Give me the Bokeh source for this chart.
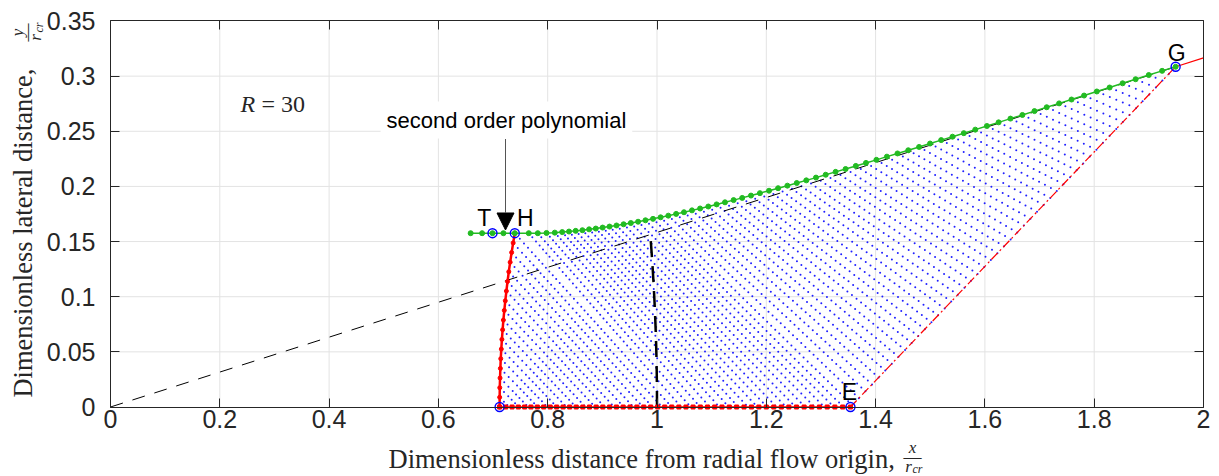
import numpy as np
from bokeh.plotting import figure
from bokeh.models import (Range1d, FixedTicker, NumeralTickFormatter, LinearAxis,
                          Label, Arrow, NormalHead)
from bokeh.embed import file_html
from bokeh.resources import INLINE

# ---------------- data ----------------
x_ticks = [0, 0.2, 0.4, 0.6, 0.8, 1.0, 1.2, 1.4, 1.6, 1.8, 2.0]
y_ticks = [0, 0.05, 0.1, 0.15, 0.2, 0.25, 0.3, 0.35]

# throat line (second order polynomial), from axis point A up to H
throat_y = [0, 0.0088, 0.0175, 0.0263, 0.0350, 0.0438, 0.0525, 0.0613, 0.0700, 0.0788,
            0.0876, 0.0963, 0.1051, 0.1138, 0.1226, 0.1313, 0.1401, 0.1488, 0.1576]
throat_x = [0.7120, 0.7121, 0.7123, 0.7128, 0.7134, 0.7141, 0.7151, 0.7162, 0.7175, 0.7189,
            0.7206, 0.7224, 0.7244, 0.7265, 0.7288, 0.7313, 0.7340, 0.7368, 0.7398]

# axis nodes from A to E
axis_x = [0.7120, 0.7233, 0.7348, 0.7462, 0.7578, 0.7693, 0.7810, 0.7927, 0.8045, 0.8164,
          0.8282, 0.8402, 0.8522, 0.8643, 0.8765, 0.8887, 0.9009, 0.9133, 0.9257, 0.9381,
          0.9506, 0.9632, 0.9758, 0.9885, 1.0013, 1.0141, 1.0270, 1.0400, 1.0530, 1.0660,
          1.0792, 1.0924, 1.1056, 1.1189, 1.1323, 1.1457, 1.1592, 1.1728, 1.1864, 1.2000,
          1.2137, 1.2275, 1.2413, 1.2552, 1.2692, 1.2832, 1.2972, 1.3114, 1.3255, 1.3398,
          1.3540]

# wall nodes from H to G
wall_x = [0.7398, 0.7654, 0.7819, 0.7978, 0.8130, 0.8265, 0.8390, 0.8512, 0.8635, 0.8758,
          0.8880, 0.9005, 0.9131, 0.9259, 0.9389, 0.9521, 0.9654, 0.9789, 0.9927, 1.0066,
          1.0207, 1.0350, 1.0494, 1.0640, 1.0789, 1.0939, 1.1091, 1.1244, 1.1402, 1.1559,
          1.1720, 1.1883, 1.2050, 1.2216, 1.2386, 1.2558, 1.2732, 1.2909, 1.3087, 1.3268,
          1.3451, 1.3638, 1.3824, 1.4015, 1.4207, 1.4401, 1.4598, 1.4796, 1.4997, 1.5200,
          1.5407, 1.5614, 1.5824, 1.6037, 1.6251, 1.6468, 1.6686, 1.6907, 1.7131, 1.7358,
          1.7585, 1.7815, 1.8048, 1.8282, 1.8520, 1.8758, 1.8999, 1.9243, 1.9490]
wall_y = [0.1576, 0.1576, 0.1576, 0.1578, 0.1581, 0.1586, 0.1591, 0.1597, 0.1603, 0.1611,
          0.1618, 0.1627, 0.1636, 0.1646, 0.1657, 0.1668, 0.1680, 0.1693, 0.1706, 0.1720,
          0.1735, 0.1751, 0.1766, 0.1783, 0.1800, 0.1818, 0.1837, 0.1856, 0.1876, 0.1896,
          0.1917, 0.1939, 0.1961, 0.1984, 0.2007, 0.2031, 0.2055, 0.2080, 0.2106, 0.2132,
          0.2158, 0.2186, 0.2213, 0.2241, 0.2270, 0.2299, 0.2328, 0.2358, 0.2389, 0.2420,
          0.2451, 0.2483, 0.2515, 0.2548, 0.2581, 0.2615, 0.2648, 0.2683, 0.2718, 0.2753,
          0.2788, 0.2824, 0.2861, 0.2897, 0.2935, 0.2972, 0.3010, 0.3048, 0.3085]

# green line upstream of H (through T)
lead_x = [0.659, 0.680, 0.699, 0.719]
lead_y = [0.1576, 0.1576, 0.1576, 0.1576]

# marked points
pt_names = ["T", "H", "E", "G"]
pt_x = [0.699, 0.7398, 1.354, 1.949]
pt_y = [0.1576, 0.1576, 0.0, 0.3085]
A_x, A_y = 0.712, 0.0

r_cr = 1.0          # sonic radius (thick dashed arc)
R_value = 30
x_max = 2.0

# ---------------- figure: frame = whole canvas, axes fixed at the box ----------------
DARK = "#262626"
XS, YS = 546.5, 1102.86          # pixels per data unit
x_lo, x_hi = -110 / XS, 2 + 16 / XS
y_lo, y_hi = -(476 - 406.5) / YS, 406.5 / YS
p = figure(width=1219, height=476, x_range=Range1d(x_lo, x_hi), y_range=Range1d(y_lo, y_hi),
           output_backend="svg", toolbar_location=None, min_border=0)
p.background_fill_color = "white"
p.border_fill_color = "white"
p.outline_line_color = None
p.grid.visible = False

xt = FixedTicker(ticks=x_ticks)
yt = FixedTicker(ticks=y_ticks)
for ax, tk, loc, bnd in ((p.xaxis[0], xt, 0, (0, 2)), (p.yaxis[0], yt, 0, (0, 0.35))):
    ax.ticker = tk
    ax.fixed_location = loc
    ax.bounds = bnd
    ax.formatter = NumeralTickFormatter(format="0.[00]")
    ax.major_tick_in = 9
    ax.major_tick_out = 0
    ax.minor_tick_line_color = None
    ax.axis_line_color = DARK
    ax.major_tick_line_color = DARK
    ax.major_label_text_color = DARK
    ax.major_label_text_font = "Liberation Sans"
    ax.major_label_text_font_size = "25px"
p.xaxis.major_label_standoff = 3
p.yaxis.major_label_standoff = 15

for side, tk, loc, bnd in (("above", xt, 0.35, (0, 2)), ("right", yt, 2.0, (0, 0.35))):
    ax = LinearAxis(ticker=tk, fixed_location=loc, bounds=bnd, major_label_text_color=None,
                    major_tick_in=9, major_tick_out=0, minor_tick_line_color=None,
                    axis_line_color=DARK, major_tick_line_color=DARK)
    p.add_layout(ax, side)

# grid lines inside the box
GRID = "#e3e3e3"
p.segment(x_ticks[1:-1], [0] * (len(x_ticks) - 2), x_ticks[1:-1], [0.35] * (len(x_ticks) - 2),
          line_color=GRID, line_width=1)
p.segment([0] * (len(y_ticks) - 2), y_ticks[1:-1], [2] * (len(y_ticks) - 2), y_ticks[1:-1],
          line_color=GRID, line_width=1)

# ---------------- characteristic net (built from the boundary nodes) ----------------
tx, ty = np.array(throat_x), np.array(throat_y)
ax_, wx, wy = np.array(axis_x), np.array(wall_x), np.array(wall_y)
Ex, Gx, Gy = ax_[-1], wx[-1], wy[-1]
nT, nA, nW = len(tx) - 1, len(ax_) - 1, len(wx) - 1      # 18, 50, 68 intervals
# left-running family: from throat (H -> A) then axis (A -> E) up to each wall node
Px0 = np.concatenate([tx[::-1], ax_[1:]])
Py0 = np.concatenate([ty[::-1], np.zeros(nA)])
Px1, Py1 = wx, wy
# right-running family: from throat (A -> H) then wall (H -> G) down to axis / E-G
qx0 = np.concatenate([tx, wx[1:]])
qy0 = np.concatenate([ty, wy[1:]])
nQ = nT + nW
L_ax = (Ex - A_x) * XS
L_eg = np.hypot((Gx - Ex) * XS, Gy * YS)
sj = np.arange(nQ + 1) / nQ * (L_ax + L_eg)
on_ax = sj <= L_ax
fe = np.clip((sj - L_ax) / L_eg, 0, 1)
qx1 = np.where(on_ax, A_x + sj / XS, Ex + fe * (Gx - Ex))
qy1 = np.where(on_ax, 0.0, fe * Gy)
d1x, d1y = (Px1 - Px0)[:, None], (Py1 - Py0)[:, None]
d2x, d2y = (qx1 - qx0)[None, :], (qy1 - qy0)[None, :]
rx, ry = qx0[None, :] - Px0[:, None], qy0[None, :] - Py0[:, None]
with np.errstate(divide="ignore", invalid="ignore"):
    den = d1x * d2y - d1y * d2x
    tp = (rx * d2y - ry * d2x) / den
    tq = (rx * d1y - ry * d1x) / den
ok = np.isfinite(tp) & np.isfinite(tq) & (tp > 1e-6) & (tp < 1 - 1e-6) & \
     (tq > 1e-6) & (tq < 1 + 1e-6)
mesh_x = (Px0[:, None] + tp * d1x)[ok]
mesh_y = (Py0[:, None] + tp * d1y)[ok]
p.scatter(mesh_x, mesh_y, marker="circle", size=2.0, fill_color="#2020ff", line_color=None)

# ray from the radial flow origin through G
p.line([0, Gx], [0, Gy], line_color="black", line_width=1, line_dash="13 10")
# sonic arc r = r_cr
th = np.linspace(0, np.arctan2(Gy, Gx), 60)
p.line(r_cr * np.cos(th), r_cr * np.sin(th), line_color="black", line_width=2.5,
       line_dash="16 9")
# characteristic E-G
p.line([Ex, Gx], [0, Gy], line_color="#ff0000", line_width=1.2, line_dash="9 3 2 3")
# continuation of the ray past G
p.line([Gx, x_max], [Gy, Gy / Gx * x_max], line_color="#ff0000", line_width=1.2)

# throat curve
p.line(throat_x, throat_y, line_color="#ff0000", line_width=2.5)
p.scatter(throat_x, throat_y, marker="circle", size=4, fill_color="#ff0000",
          line_color="#ff0000")
# axis
p.line(axis_x, [0] * len(axis_x), line_color="#ff0000", line_width=1.5)
p.scatter(axis_x, [0] * len(axis_x), marker="square", size=4, fill_color="#ff0000",
          line_color="#ff0000")
# wall
p.line(lead_x + wall_x, lead_y + wall_y, line_color="#22bb22", line_width=1.5)
p.scatter(lead_x + wall_x, lead_y + wall_y, marker="circle", size=5,
          fill_color="#22bb22", line_color="#22bb22")
# marked points
p.scatter(pt_x + [A_x], pt_y + [A_y], marker="circle", size=9, fill_color=None,
          line_color="#0000ff", line_width=1.4)

# point labels
lab_off = [(-0.015, 0.0135), (0.019, 0.0135), (-0.002, 0.0135), (0.002, 0.0125)]
for name, x0, y0, (dx, dy) in zip(pt_names, pt_x, pt_y, lab_off):
    p.add_layout(Label(x=x0 + dx, y=y0 + dy, text=name, text_font="Liberation Sans",
                       text_font_size="23px", text_align="center", text_baseline="middle",
                       text_color="black"))

# R = 30
p.add_layout(Label(x=0.2379, y=0.2743, text="R", text_font="Liberation Serif",
                   text_font_style="italic", text_font_size="24px", text_baseline="middle",
                   text_color=DARK))
p.add_layout(Label(x=0.2763, y=0.2743, text="= %d" % R_value, text_font="Liberation Serif",
                   text_font_size="24px", text_baseline="middle", text_color=DARK))

# text arrow
p.add_layout(Arrow(x_start=0.7228, y_start=0.243, x_end=0.7228, y_end=0.1605,
                   line_color="#555555", line_width=1,
                   end=NormalHead(size=17, fill_color="black", line_color="black")))
p.add_layout(Label(x=0.7245, y=0.2602, text="second order polynomial",
                   text_font="Liberation Sans", text_font_size="22px", text_align="center",
                   text_baseline="middle", text_color="black",
                   background_fill_color="white", padding=6))

# axis labels (placed as labels so the fractions can be built)
p.add_layout(Label(x=0.5087, y=-0.0467, text="Dimensionless distance from radial flow origin,",
                   text_font="Liberation Serif", text_font_size="26.5px", text_align="left",
                   text_baseline="middle", text_color=DARK))
p.add_layout(Label(x=1.4675, y=-0.0367, text="x", text_font="Liberation Serif",
                   text_font_style="italic", text_font_size="17px", text_align="center",
                   text_baseline="middle", text_color=DARK))
p.add_layout(Label(x=1.4675, y=-0.0449, text="\u2014", text_font="Liberation Serif",
                   text_font_size="18px", text_align="center", text_baseline="middle",
                   text_color=DARK))
p.add_layout(Label(x=1.4602, y=-0.0540, text="r", text_font="Liberation Serif",
                   text_font_style="italic", text_font_size="17px", text_align="center",
                   text_baseline="middle", text_color=DARK))
p.add_layout(Label(x=1.4767, y=-0.0565, text="cr", text_font="Liberation Serif",
                   text_font_style="italic", text_font_size="12px", text_align="center",
                   text_baseline="middle", text_color=DARK))

p.add_layout(Label(x=-0.1592, y=0.0086, text="Dimensionless lateral distance,",
                   text_font="Liberation Serif", text_font_size="26.5px", text_align="left",
                   text_baseline="middle", angle=np.pi / 2, text_color=DARK))
p.add_layout(Label(x=-0.1702, y=0.3396, text="y", text_font="Liberation Serif",
                   text_font_style="italic", text_font_size="17px", text_align="center",
                   text_baseline="middle", angle=np.pi / 2, text_color=DARK))
p.add_layout(Label(x=-0.1537, y=0.3396, text="\u2014", text_font="Liberation Serif",
                   text_font_size="18px", text_align="center", text_baseline="middle",
                   angle=np.pi / 2, text_color=DARK))
p.add_layout(Label(x=-0.1372, y=0.3350, text="r", text_font="Liberation Serif",
                   text_font_style="italic", text_font_size="17px", text_align="center",
                   text_baseline="middle", angle=np.pi / 2, text_color=DARK))
p.add_layout(Label(x=-0.1317, y=0.3441, text="cr", text_font="Liberation Serif",
                   text_font_style="italic", text_font_size="12px", text_align="center",
                   text_baseline="middle", angle=np.pi / 2, text_color=DARK))

open("out.html", "w").write(file_html(p, INLINE))
